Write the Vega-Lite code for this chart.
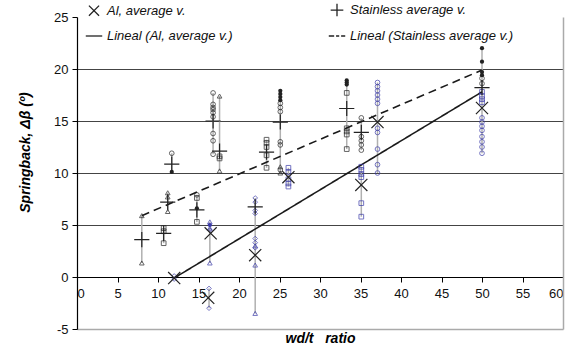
{
  "$schema": "https://vega.github.io/schema/vega-lite/v6.json",
  "width": 486,
  "height": 312,
  "autosize": "none",
  "padding": {"left": 77, "top": 17, "right": 22, "bottom": 21},
  "background": "white",
  "config": {"view": {"stroke": null}, "font": "Liberation Sans"},
  "datasets": {
    "pts": [
      {"x": 8, "y": 5.9, "m": "SS", "k": "t"}, {"x": 8, "y": 1.35, "m": "SS", "k": "t"},
      {"x": 10.7, "y": 4.7, "m": "SS", "k": "s"}, {"x": 10.7, "y": 4.4, "m": "SS", "k": "s"}, {"x": 10.7, "y": 3.25, "m": "SS", "k": "s"},
      {"x": 11.2, "y": 8.1, "m": "SS", "k": "t"}, {"x": 11.2, "y": 7.7, "m": "SS", "k": "t"}, {"x": 11.2, "y": 6.3, "m": "SS", "k": "t"},
      {"x": 11.7, "y": 11.9, "m": "SS", "k": "o"}, {"x": 11.7, "y": 10.1, "m": "SS", "k": "f"},
      {"x": 14.8, "y": 7.9, "m": "SS", "k": "o"}, {"x": 14.8, "y": 7.6, "m": "SS", "k": "s"}, {"x": 14.8, "y": 6.6, "m": "SS", "k": "f"}, {"x": 14.8, "y": 5.3, "m": "SS", "k": "s"},
      {"x": 16.8, "y": 17.7, "m": "SS", "k": "o"}, {"x": 16.8, "y": 16.6, "m": "SS", "k": "o"}, {"x": 16.8, "y": 16.3, "m": "SS", "k": "o"}, {"x": 16.8, "y": 16.1, "m": "SS", "k": "o"}, {"x": 16.8, "y": 15.8, "m": "SS", "k": "o"}, {"x": 16.8, "y": 15.4, "m": "SS", "k": "o"}, {"x": 16.8, "y": 13.8, "m": "SS", "k": "o"}, {"x": 16.8, "y": 13.1, "m": "SS", "k": "o"}, {"x": 16.8, "y": 11.8, "m": "SS", "k": "o"},
      {"x": 17.6, "y": 17.4, "m": "SS", "k": "t"}, {"x": 17.6, "y": 11.6, "m": "SS", "k": "s"}, {"x": 17.6, "y": 11.4, "m": "SS", "k": "s"}, {"x": 17.6, "y": 10.2, "m": "SS", "k": "t"},
      {"x": 12, "y": 0.1, "m": "Al", "k": "d"}, {"x": 12, "y": -0.2, "m": "Al", "k": "d"},
      {"x": 16.4, "y": 5.3, "m": "Al", "k": "t"}, {"x": 16.4, "y": 5.0, "m": "Al", "k": "f"}, {"x": 16.4, "y": 4.7, "m": "Al", "k": "t"}, {"x": 16.4, "y": 4.5, "m": "Al", "k": "d"}, {"x": 16.4, "y": 1.35, "m": "Al", "k": "t"},
      {"x": 16.3, "y": -1.1, "m": "Al", "k": "d"}, {"x": 16.3, "y": -3.0, "m": "Al", "k": "d"},
      {"x": 22, "y": 7.6, "m": "Al", "k": "d"}, {"x": 22, "y": 7.2, "m": "Al", "k": "d"}, {"x": 22, "y": 6.4, "m": "Al", "k": "d"}, {"x": 22, "y": 6.1, "m": "Al", "k": "d"},
      {"x": 22, "y": 3.7, "m": "Al", "k": "d"}, {"x": 22, "y": 3.3, "m": "Al", "k": "d"}, {"x": 22, "y": 3.0, "m": "Al", "k": "t"}, {"x": 22, "y": 2.8, "m": "Al", "k": "d"}, {"x": 22, "y": 1.15, "m": "Al", "k": "t"}, {"x": 22, "y": -3.5, "m": "Al", "k": "t"},
      {"x": 23.4, "y": 13.2, "m": "SS", "k": "s"}, {"x": 23.4, "y": 12.9, "m": "SS", "k": "s"}, {"x": 23.4, "y": 12.5, "m": "SS", "k": "s"}, {"x": 23.4, "y": 11.7, "m": "SS", "k": "s"}, {"x": 23.4, "y": 10.5, "m": "SS", "k": "s"},
      {"x": 25.1, "y": 17.9, "m": "SS", "k": "f"}, {"x": 25.1, "y": 17.6, "m": "SS", "k": "f"}, {"x": 25.1, "y": 17.3, "m": "SS", "k": "f"}, {"x": 25.1, "y": 17.0, "m": "SS", "k": "f"}, {"x": 25.1, "y": 16.7, "m": "SS", "k": "o"}, {"x": 25.1, "y": 16.3, "m": "SS", "k": "o"}, {"x": 25.1, "y": 15.9, "m": "SS", "k": "o"}, {"x": 25.1, "y": 13.0, "m": "SS", "k": "o"}, {"x": 25.1, "y": 12.7, "m": "SS", "k": "o"}, {"x": 25.1, "y": 10.6, "m": "SS", "k": "t"}, {"x": 25.1, "y": 10.3, "m": "SS", "k": "o"}, {"x": 25.1, "y": 10.0, "m": "SS", "k": "t"},
      {"x": 26.1, "y": 10.5, "m": "Al", "k": "s"}, {"x": 26.1, "y": 10.1, "m": "Al", "k": "s"}, {"x": 26.1, "y": 9.4, "m": "Al", "k": "s"}, {"x": 26.1, "y": 9.0, "m": "Al", "k": "s"}, {"x": 26.1, "y": 8.7, "m": "Al", "k": "s"},
      {"x": 33.3, "y": 18.9, "m": "SS", "k": "f"}, {"x": 33.3, "y": 18.7, "m": "SS", "k": "f"}, {"x": 33.3, "y": 18.5, "m": "SS", "k": "f"}, {"x": 33.3, "y": 17.7, "m": "SS", "k": "s"}, {"x": 33.3, "y": 14.3, "m": "SS", "k": "s"}, {"x": 33.3, "y": 14.0, "m": "SS", "k": "s"}, {"x": 33.3, "y": 13.7, "m": "SS", "k": "s"}, {"x": 33.3, "y": 12.3, "m": "SS", "k": "s"},
      {"x": 35.1, "y": 15.3, "m": "SS", "k": "o"}, {"x": 35.1, "y": 13.5, "m": "SS", "k": "o"}, {"x": 35.1, "y": 13.1, "m": "SS", "k": "o"}, {"x": 35.1, "y": 12.7, "m": "SS", "k": "o"}, {"x": 35.1, "y": 12.2, "m": "SS", "k": "o"},
      {"x": 35.1, "y": 10.6, "m": "Al", "k": "s"}, {"x": 35.1, "y": 10.3, "m": "Al", "k": "s"}, {"x": 35.1, "y": 9.9, "m": "Al", "k": "s"}, {"x": 35.1, "y": 9.6, "m": "Al", "k": "s"}, {"x": 35.1, "y": 7.1, "m": "Al", "k": "s"}, {"x": 35.1, "y": 5.8, "m": "Al", "k": "s"},
      {"x": 37.1, "y": 18.7, "m": "Al", "k": "o"}, {"x": 37.1, "y": 18.3, "m": "Al", "k": "o"}, {"x": 37.1, "y": 17.9, "m": "Al", "k": "o"}, {"x": 37.1, "y": 17.5, "m": "Al", "k": "o"}, {"x": 37.1, "y": 17.1, "m": "Al", "k": "o"}, {"x": 37.1, "y": 16.7, "m": "Al", "k": "o"}, {"x": 37.1, "y": 14.3, "m": "Al", "k": "o"}, {"x": 37.1, "y": 13.9, "m": "Al", "k": "o"}, {"x": 37.1, "y": 12.3, "m": "Al", "k": "o"}, {"x": 37.1, "y": 10.8, "m": "Al", "k": "o"}, {"x": 37.1, "y": 10.0, "m": "Al", "k": "o"},
      {"x": 50, "y": 22.0, "m": "SS", "k": "f"}, {"x": 50, "y": 20.7, "m": "SS", "k": "f"}, {"x": 50, "y": 19.7, "m": "SS", "k": "f"}, {"x": 50, "y": 19.4, "m": "SS", "k": "f"}, {"x": 50, "y": 19.1, "m": "SS", "k": "o"}, {"x": 50, "y": 18.6, "m": "SS", "k": "o"},
      {"x": 50, "y": 17.8, "m": "Al", "k": "s"}, {"x": 50, "y": 17.4, "m": "Al", "k": "s"}, {"x": 50, "y": 17.1, "m": "Al", "k": "s"}, {"x": 50, "y": 16.8, "m": "Al", "k": "s"}, {"x": 50, "y": 15.3, "m": "Al", "k": "o"}, {"x": 50, "y": 14.9, "m": "Al", "k": "o"}, {"x": 50, "y": 14.5, "m": "Al", "k": "o"}, {"x": 50, "y": 14.1, "m": "Al", "k": "o"}, {"x": 50, "y": 13.5, "m": "Al", "k": "o"}, {"x": 50, "y": 13.0, "m": "Al", "k": "o"}, {"x": 50, "y": 12.5, "m": "Al", "k": "o"}, {"x": 50, "y": 11.9, "m": "Al", "k": "o"}
    ],
    "ranges": [
      {"x": 8, "lo": 1.35, "hi": 5.9}, {"x": 10.7, "lo": 3.25, "hi": 4.7}, {"x": 11.2, "lo": 6.3, "hi": 8.1}, {"x": 11.7, "lo": 10.1, "hi": 11.9},
      {"x": 14.8, "lo": 5.3, "hi": 7.9}, {"x": 16.8, "lo": 11.8, "hi": 17.7}, {"x": 17.6, "lo": 10.2, "hi": 17.4}, {"x": 16.4, "lo": 1.35, "hi": 5.3},
      {"x": 16.3, "lo": -3.0, "hi": -1.1}, {"x": 22, "lo": -3.5, "hi": 7.6}, {"x": 23.4, "lo": 10.5, "hi": 13.2}, {"x": 25.1, "lo": 10.0, "hi": 17.9},
      {"x": 26.1, "lo": 8.7, "hi": 10.5}, {"x": 33.3, "lo": 12.3, "hi": 18.9}, {"x": 35.1, "lo": 12.2, "hi": 15.3}, {"x": 35.1, "lo": 5.8, "hi": 10.6},
      {"x": 37.1, "lo": 10.0, "hi": 18.7}, {"x": 50, "lo": 11.9, "hi": 22.0}
    ],
    "avg": [
      {"x": 8, "y": 3.6, "s": "Stainless average v."}, {"x": 10.7, "y": 4.2, "s": "Stainless average v."}, {"x": 11.2, "y": 7.2, "s": "Stainless average v."},
      {"x": 11.7, "y": 10.85, "s": "Stainless average v."}, {"x": 14.8, "y": 6.45, "s": "Stainless average v."}, {"x": 16.8, "y": 15.0, "s": "Stainless average v."},
      {"x": 17.6, "y": 12.1, "s": "Stainless average v."}, {"x": 22, "y": 6.75, "s": "Stainless average v."}, {"x": 23.4, "y": 12.0, "s": "Stainless average v."},
      {"x": 25.1, "y": 14.9, "s": "Stainless average v."}, {"x": 33.3, "y": 16.2, "s": "Stainless average v."}, {"x": 35.1, "y": 13.9, "s": "Stainless average v."},
      {"x": 50, "y": 18.2, "s": "Stainless average v."},
      {"x": 12, "y": -0.1, "s": "Al, average v."}, {"x": 16.5, "y": 4.2, "s": "Al, average v."}, {"x": 16.2, "y": -2.0, "s": "Al, average v."},
      {"x": 22, "y": 2.1, "s": "Al, average v."}, {"x": 26.1, "y": 9.6, "s": "Al, average v."}, {"x": 35.1, "y": 8.85, "s": "Al, average v."},
      {"x": 37.1, "y": 14.9, "s": "Al, average v."}, {"x": 50, "y": 16.25, "s": "Al, average v."}
    ],
    "fit": [
      {"x": 12, "y": -0.1, "s": "Al"}, {"x": 50, "y": 17.8, "s": "Al"},
      {"x": 8, "y": 5.9, "s": "SS"}, {"x": 50, "y": 19.9, "s": "SS"}
    ]
  },
  "resolve": {
    "scale": {"shape": "independent", "color": "independent", "strokeDash": "independent"},
    "axis": {"x": "independent", "y": "independent"}
  },
  "layer": [
    {
      "data": {"name": "ranges"},
      "mark": {"type": "rule", "color": "#b0b0b0", "strokeWidth": 1.5},
      "encoding": {
        "x": {"field": "x", "type": "quantitative", "scale": {"domain": [0, 60], "nice": false},
          "axis": {"orient": "bottom", "domainColor": "#aaaaaa", "domainWidth": 1.5, "labels": false, "ticks": false, "grid": false,
            "title": "wd/t\u00a0\u00a0\u00a0ratio", "titleFontStyle": "italic", "titleFontWeight": "bold", "titleFontSize": 14, "titleColor": "#000", "titlePadding": 2}},
        "y": {"field": "lo", "type": "quantitative", "scale": {"domain": [-5, 25], "nice": false},
          "axis": {"orient": "right", "domainColor": "#aaaaaa", "domainWidth": 1.5, "labels": false, "ticks": false, "grid": false, "title": null}},
        "y2": {"field": "hi"}
      }
    },
    {
      "data": {"name": "fit"},
      "mark": {"type": "line", "color": "#1a1a1a", "strokeWidth": 1.6},
      "encoding": {
        "x": {"field": "x", "type": "quantitative", "axis": null},
        "y": {"field": "y", "type": "quantitative", "axis": null},
        "detail": {"field": "s"},
        "strokeDash": {"field": "s", "type": "nominal", "scale": {"domain": ["Al", "SS"], "range": [[1, 0], [8, 5]]}, "legend": null}
      }
    },
    {
      "data": {"name": "pts"},
      "transform": [{"filter": "datum.k != 'f'"}],
      "mark": {"type": "point", "filled": false, "strokeWidth": 1, "size": 22},
      "encoding": {
        "x": {"field": "x", "type": "quantitative",
          "axis": {"orient": "bottom", "offset": -52, "values": [0, 5, 10, 15, 20, 25, 30, 35, 40, 45, 50, 55, 60], "domainColor": "#000", "domainWidth": 1.2,
            "tickColor": "#000", "tickSize": 5, "labelFontSize": 13, "labelColor": "#111", "labelPadding": 5, "grid": false, "title": null}},
        "y": {"field": "y", "type": "quantitative",
          "axis": {"orient": "left", "values": [-5, 0, 5, 10, 15, 20, 25], "labelExpr": "'' + datum.value", "domainColor": "#000", "domainWidth": 1.2, "tickColor": "#000", "tickSize": 5,
            "labelFontSize": 13, "labelColor": "#111", "labelPadding": 4,
            "grid": true, "gridColor": "#444", "gridWidth": 1.2,
            "gridOpacity": {"condition": {"test": "datum.value >= 5 && datum.value <= 20", "value": 1}, "value": 0},
            "title": "Springback, Δβ (º)", "titleFontStyle": "italic", "titleFontWeight": "bold", "titleFontSize": 14, "titleColor": "#000", "titlePadding": 21, "titleY": 135}},
        "color": {"field": "m", "type": "nominal", "scale": {"domain": ["SS", "Al"], "range": ["#222222", "#3a3aa8"]}, "legend": null},
        "shape": {"field": "k", "type": "nominal", "scale": {"domain": ["o", "t", "s", "d"], "range": ["circle", "triangle-up", "square", "diamond"]}, "legend": null}
      }
    },
    {
      "data": {"name": "pts"},
      "transform": [{"filter": "datum.k == 'f'"}],
      "mark": {"type": "point", "filled": true, "shape": "circle", "size": 18, "opacity": 1},
      "encoding": {
        "x": {"field": "x", "type": "quantitative", "axis": null},
        "y": {"field": "y", "type": "quantitative", "axis": null},
        "color": {"field": "m", "type": "nominal", "scale": {"domain": ["SS", "Al"], "range": ["#222222", "#3a3aa8"]}, "legend": null}
      }
    },
    {
      "data": {"name": "avg"},
      "mark": {"type": "point", "filled": false, "color": "#222222", "strokeWidth": 1.2, "size": 230, "opacity": 1},
      "encoding": {
        "x": {"field": "x", "type": "quantitative", "axis": null},
        "y": {"field": "y", "type": "quantitative", "axis": null},
        "shape": {"field": "s", "type": "nominal",
          "scale": {"domain": ["Al, average v.", "Stainless average v.", "Lineal (Al, average v.)", "Lineal (Stainless average v.)"],
            "range": ["M-0.8,-0.8L0.8,0.8M-0.8,0.8L0.8,-0.8", "M-1,0L1,0M0,-1L0,1", "M-1.3,0L1.3,0", "M-1.3,0L-0.45,0M-0.15,0L0.35,0M0.65,0L1.3,0"]},
          "legend": {"orient": "none", "legendX": 10, "legendY": -14, "columns": 2, "direction": "horizontal", "title": null,
            "labelFontSize": 13, "labelFontStyle": "italic", "labelColor": "#111", "labelLimit": 300, "labelOffset": 6,
            "symbolSize": 160, "symbolStrokeWidth": 1.3, "symbolStrokeColor": "#222", "symbolFillColor": "transparent",
            "columnPadding": 93, "rowPadding": 10}}
      }
    }
  ]
}
